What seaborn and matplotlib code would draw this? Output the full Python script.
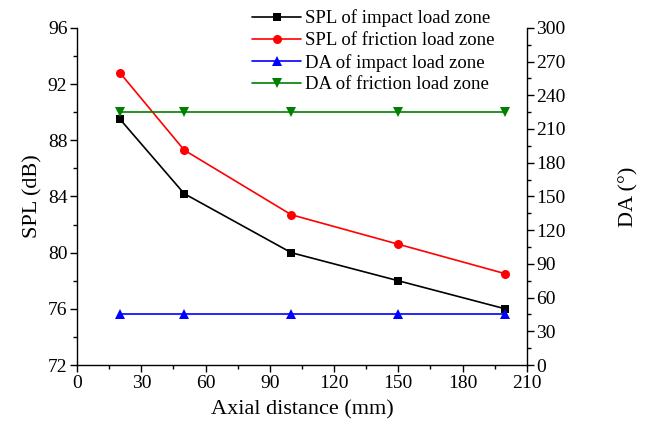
import matplotlib
matplotlib.use("Agg")
import matplotlib.pyplot as plt
import seaborn as sns
import pandas as pd
from matplotlib.ticker import MultipleLocator

distance = [20, 50, 100, 150, 200]
spl_impact = [89.5, 84.2, 80.0, 78.0, 76.0]
spl_friction = [92.8, 87.3, 82.7, 80.6, 78.5]
da_impact = [45, 45, 45, 45, 45]
da_friction = [225, 225, 225, 225, 225]

sns.set_style("ticks")
plt.rcParams['font.family'] = ['Liberation Serif', 'DejaVu Serif']
plt.rcParams['text.color'] = 'black'
plt.rcParams['axes.labelcolor'] = 'black'
plt.rcParams['xtick.color'] = 'black'
plt.rcParams['ytick.color'] = 'black'

fig = plt.figure(figsize=(6.48, 4.28), dpi=100)
ax = fig.add_axes([0.119, 0.147, 0.694, 0.788])
ax2 = ax.twinx()

series = [
    (ax, spl_impact, "SPL of impact load zone", "black", "s", 6),
    (ax, spl_friction, "SPL of friction load zone", "red", "o", 6.5),
    (ax2, da_impact, "DA of impact load zone", "blue", "^", 7),
    (ax2, da_friction, "DA of friction load zone", "green", "v", 7),
]
handles = []
for a, vals, name, col, mk, ms in series:
    df = pd.DataFrame({"x": distance, "y": vals})
    sns.lineplot(data=df, x="x", y="y", ax=a, color=col, marker=mk,
                 markersize=ms, markeredgewidth=0, linewidth=1.2, label=name, legend=False)
    handles.append(a.get_lines()[-1])

ax.set_xlim(0, 210)
ax.set_ylim(72, 96)
ax2.set_ylim(0, 300)
ax.xaxis.set_major_locator(MultipleLocator(30))
ax.xaxis.set_minor_locator(MultipleLocator(15))
ax.yaxis.set_major_locator(MultipleLocator(4))
ax.yaxis.set_minor_locator(MultipleLocator(2))
ax2.yaxis.set_major_locator(MultipleLocator(30))
ax2.yaxis.set_minor_locator(MultipleLocator(15))

ax.set_xlabel("Axial distance (mm)", fontsize=16, labelpad=6)
ax.set_ylabel("SPL (dB)", fontsize=16, labelpad=4)
ax2.set_ylabel("DA (°)", fontsize=16, labelpad=38)

for a in (ax, ax2):
    a.tick_params(which="major", direction="out", length=5, width=1, labelsize=14, pad=2)
    a.tick_params(which="minor", direction="out", length=3, width=1)
    for s in a.spines.values():
        s.set_linewidth(1.0)
        s.set_color("black")
    a.spines["top"].set_visible(False)
ax.spines["right"].set_visible(False)
ax2.spines["left"].set_visible(False)
ax2.spines["bottom"].set_visible(False)

fig.legend(handles=handles, labels=[h.get_label() for h in handles],
           loc="upper left", bbox_to_anchor=(0.375, 1.0), frameon=False,
           fontsize=13.5, handlelength=2.6, handletextpad=0.2, labelspacing=0.25,
           borderaxespad=0.1)

fig.savefig("out.png", dpi=100, facecolor="white")
